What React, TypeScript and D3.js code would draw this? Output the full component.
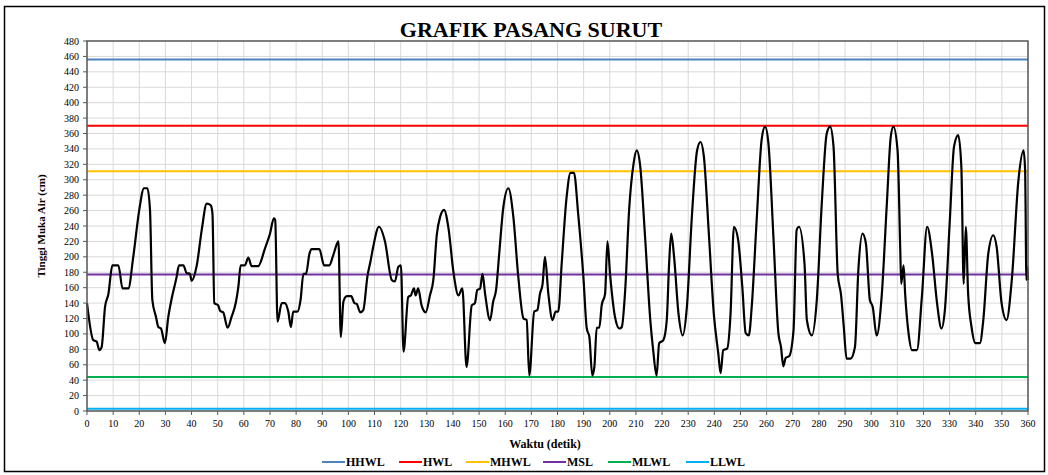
import React from "react";
import * as d3 from "d3";

const times: number[] = [
  0, 2.4, 3.7, 4.7, 5.6, 6.9, 8.2, 9.7, 12, 13.6, 15.8, 17.7, 20, 21.8, 23.1, 24.1, 25, 26.4, 27.3, 28.3, 29.8,
  31.1, 32.4, 34.3, 35.2, 36.9, 38.1, 39.4, 40, 42, 43.9, 45.8, 47.3, 48, 48.7, 50.2, 50.9, 52.1, 53.8, 55.3,
  56.9, 57.9, 58.8, 60.4, 61.7, 63, 65.5, 68.1, 70, 71.5, 72, 72.9, 74.5, 75.7, 77, 78, 78.9, 80.5, 81.7, 82.8,
  83.8, 85.1, 86, 88.9, 90.7, 92.7, 94.2, 96.2, 97.1, 98.1, 99.4, 101.1, 102.3, 103.2, 104.5, 105.7, 107.3,
  108.5, 109.5, 111.7, 114, 116.6, 117.8, 119.1, 120.1, 121.1, 122.9, 123.9, 125.1, 125.7, 126.7, 128, 129.6,
  131.2, 132.5, 133.8, 135.1, 136.6, 138.3, 140.2, 142.1, 143.6, 145.2, 147.2, 148.4, 149.3, 150.4, 151.3,
  152.3, 154.2, 155.4, 156.5, 157.7, 159.3, 161.2, 163.1, 165, 167, 168.2, 169.2, 171.1, 172.3, 173.3, 174.3,
  175.2, 176.5, 178.1, 179.3, 180.3, 181.6, 183.5, 185, 186.3, 187.9, 189.9, 191.2, 192.2, 193.3, 194.1, 195,
  196, 196.9, 198.2, 199.1, 200.1, 202, 203.7, 204.6, 205.9, 207.4, 209.1, 210.3, 211.6, 213.5, 215.5, 216.6,
  217.9, 218.9, 220.5, 221.8, 222.7, 223.5, 224.6, 226.3, 227.9, 229.5, 231.4, 233.4, 234.7, 236, 237.9, 239.8,
  241.5, 242.4, 243.4, 244.9, 246.2, 247.5, 249.1, 250.7, 252, 253.2, 254.3, 256.2, 258.1, 259.4, 260.7, 262.6,
  264.5, 265.5, 266.4, 267.3, 268.6, 270.3, 271.5, 272.4, 274.5, 275.4, 277.3, 279.2, 281.1, 283, 284.3, 285.6,
  287.2, 288.5, 289.5, 290.6, 292.1, 293.8, 295.1, 296.7, 298, 299.5, 300.6, 302.1, 304, 306, 307.5, 308.5,
  310.1, 311.1, 311.5, 312.4, 313, 314.3, 315.6, 317.5, 319.4, 321.4, 323.3, 325.2, 326.9, 328.2, 330.1, 331.7,
  333.3, 334.5, 335.4, 336.2, 337.1, 338.4, 339.9, 341.6, 342.9, 344.8, 346.7, 348, 349.9, 351.8, 353.8, 356.3,
  358.3, 358.9, 359.4, 359.8, 360,
];

const levels: number[] = [
  140, 92, 90, 79, 83, 135, 152, 189, 189, 159, 159, 200, 261, 289, 289, 261, 144, 122, 109, 107, 88,
  122, 146, 174, 189, 189, 179, 178, 169, 189, 235, 269, 267, 256, 140, 137, 130, 128, 108, 122,
  140, 161, 189, 189, 199, 188, 188, 211, 230, 250, 248, 116, 140, 140, 129, 109, 129, 129, 144, 178,
  178, 204, 210, 210, 189, 189, 202, 220, 96, 142, 149, 149, 140, 139, 128, 131, 175,
  195, 213, 239, 220, 170, 168, 187, 189, 77, 148, 150, 159, 150, 159, 137, 128,
  150, 170, 228, 252, 261, 237, 180, 150, 159, 57, 137, 140, 157, 159, 178,
  152, 118, 142, 157, 204, 265, 289, 252, 174, 120, 118, 46, 129, 131, 152, 165,
  200, 152, 118, 129, 129, 191, 278, 309, 309, 256, 174, 107, 96, 46, 57, 108,
  108, 137, 152, 220, 178, 122, 107, 109, 157, 261, 321, 338, 319, 226, 118, 79,
  46, 88, 92, 118, 191, 230, 200, 126, 98, 135, 252, 338, 349, 330, 230, 126,
  75, 49, 79, 81, 126, 239, 222, 161, 101, 98, 135, 248, 352, 369, 347, 226,
  101, 83, 58, 69, 71, 105, 235, 239, 191, 118, 98, 144, 269, 360, 369, 343,
  178, 150, 110, 68, 68, 83, 183, 230, 217, 144, 135, 98, 148, 269, 356, 369,
  338, 213, 165, 189, 152, 101, 79, 79, 148, 239, 204, 140, 107, 131, 248, 343,
  358, 317, 165, 239, 152, 109, 88, 88, 118, 204, 228, 213, 140, 118, 170, 298,
  338, 312, 170, 187, 170,
];

const refNames: string[] = ["HHWL", "HWL", "MHWL", "MSL", "MLWL", "LLWL"];
const refValues: number[] = [456, 370, 311, 177, 44, 3];
const refColors: string[] = ["#4F81BD", "#FF0000", "#FFC000", "#7030A0", "#00B050", "#00B0F0"];

const xTicks: number[] = d3.range(0, 361, 10);
const yTicks: number[] = d3.range(0, 481, 20);

const W = 1048;
const H = 475;
const left = 87, right = 1028, top = 41, bottom = 411;
const font = "'Liberation Serif', 'Times New Roman', serif";

export default function App() {
  const x = d3.scaleLinear().domain([0, 360]).range([left, right]);
  const y = d3.scaleLinear().domain([0, 480]).range([bottom, top]);
  const pts: [number, number][] = times.map((t, i) => [t, levels[i]]);
  const line = d3
    .line<[number, number]>()
    .x((d) => x(d[0]))
    .y((d) => y(d[1]))
    .curve(d3.curveMonotoneX);

  const legendX = [322, 399, 466, 543, 608, 686];

  return (
    <svg width={W} height={H} style={{ position: "absolute", left: 0, top: 0, background: "#fff" }}>
      <rect x={0} y={0} width={W} height={H} fill="#fff" />
      <rect x={4.5} y={6.5} width={1040} height={465} fill="none" stroke="#000" strokeWidth={1.5} />
      <text x={531} y={37} textAnchor="middle" fontFamily={font} fontWeight="bold" fontSize={22} fill="#000">
        GRAFIK PASANG SURUT
      </text>
      {/* gridlines */}
      {yTicks.map((v) => (
        <line key={"gy" + v} x1={left} x2={right} y1={y(v)} y2={y(v)} stroke="#d9d9d9" strokeWidth={1} />
      ))}
      {xTicks.map((v) => (
        <line key={"gx" + v} x1={x(v)} x2={x(v)} y1={top} y2={bottom} stroke="#d9d9d9" strokeWidth={1} />
      ))}
      {/* reference lines */}
      {refValues.map((v, i) => (
        <line key={"r" + i} x1={left} x2={right} y1={y(v)} y2={y(v)} stroke={refColors[i]} strokeWidth={2} />
      ))}
      {/* data */}
      <path d={line(pts) || ""} fill="none" stroke="#000" strokeWidth={2.2} strokeLinejoin="round" />
      {/* frame */}
      <rect x={left} y={top} width={right - left} height={bottom - top} fill="none" stroke="#595959" strokeWidth={1.5} />
      {/* y ticks */}
      {yTicks.map((v) => (
        <g key={"ty" + v}>
          <line x1={left - 4} x2={left} y1={y(v)} y2={y(v)} stroke="#595959" />
          <text x={left - 8} y={y(v) + 3.5} textAnchor="end" fontFamily={font} fontSize={10} fill="#000">
            {v}
          </text>
        </g>
      ))}
      {xTicks.map((v) => (
        <g key={"tx" + v}>
          <line x1={x(v)} x2={x(v)} y1={bottom} y2={bottom + 4} stroke="#595959" />
          <text x={x(v)} y={bottom + 16} textAnchor="middle" fontFamily={font} fontSize={10} fill="#000">
            {v}
          </text>
        </g>
      ))}
      <text
        transform={`translate(45, ${(top + bottom) / 2}) rotate(-90)`}
        textAnchor="middle"
        fontFamily={font}
        fontWeight="bold"
        fontSize={11}
        fill="#000"
      >
        Tinggi Muka Air (cm)
      </text>
      <text x={545} y={448} textAnchor="middle" fontFamily={font} fontWeight="bold" fontSize={12} fill="#000">
        Waktu (detik)
      </text>
      {refNames.map((n, i) => (
        <g key={"lg" + i}>
          <line x1={legendX[i]} x2={legendX[i] + 23} y1={462} y2={462} stroke={refColors[i]} strokeWidth={2} />
          <text x={legendX[i] + 24} y={466} fontFamily={font} fontWeight="bold" fontSize={12} fill="#000">
            {n}
          </text>
        </g>
      ))}
    </svg>
  );
}
